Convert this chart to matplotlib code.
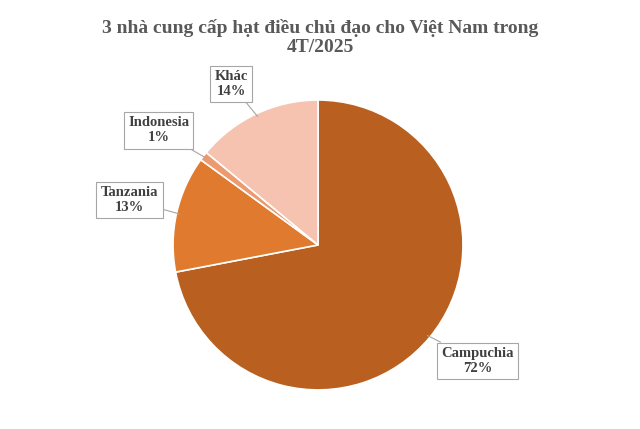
import numpy as np
import matplotlib
matplotlib.use("Agg")
import matplotlib.pyplot as plt

# data
labels = ["Campuchia", "Tanzania", "Indonesia", "Khác"]
shares = [72, 13, 1, 14]
colors = ["#B96020", "#E07A2F", "#EC9A6E", "#F5C3AF"]
# label box centres (pie data coords)
label_pos = [(1.10, -0.80), (-1.30, 0.31), (-1.10, 0.79), (-0.60, 1.11)]

plt.rcParams['font.family'] = ['Liberation Serif', 'DejaVu Serif']

fig = plt.figure(figsize=(6.4, 4.29), dpi=100)
ax = fig.add_axes([0.497 - 0.2266, 0.429 - 0.338, 0.453, 0.676])

wedges, _ = ax.pie(shares, colors=colors, startangle=90, counterclock=False,
                   radius=1, wedgeprops=dict(edgecolor="white", linewidth=1.2))
ax.set_xlim(-1, 1)
ax.set_ylim(-1, 1)
ax.set_aspect("equal")
ax.axis("off")

for w, lab, val, pos in zip(wedges, labels, shares, label_pos):
    ang = np.deg2rad((w.theta1 + w.theta2) / 2)
    edge = (0.98 * np.cos(ang), 0.98 * np.sin(ang))
    ax.annotate("%s\n%d%%" % (lab, val), xy=edge, xytext=pos,
                ha="center", va="center", fontsize=10.5, fontweight="bold",
                color="#404040", annotation_clip=False,
                bbox=dict(boxstyle="square,pad=0.3", fc="white", ec="#A6A6A6", lw=0.8),
                arrowprops=dict(arrowstyle="-", color="#A6A6A6", lw=0.8,
                                shrinkA=0, shrinkB=0))

fig.text(0.5, 0.955, "3 nhà cung cấp hạt điều chủ đạo cho Việt Nam trong\n4T/2025",
         ha="center", va="top", fontsize=14, fontweight="bold", color="#595959",
         linespacing=1.1)

fig.savefig("out.png", dpi=100)
